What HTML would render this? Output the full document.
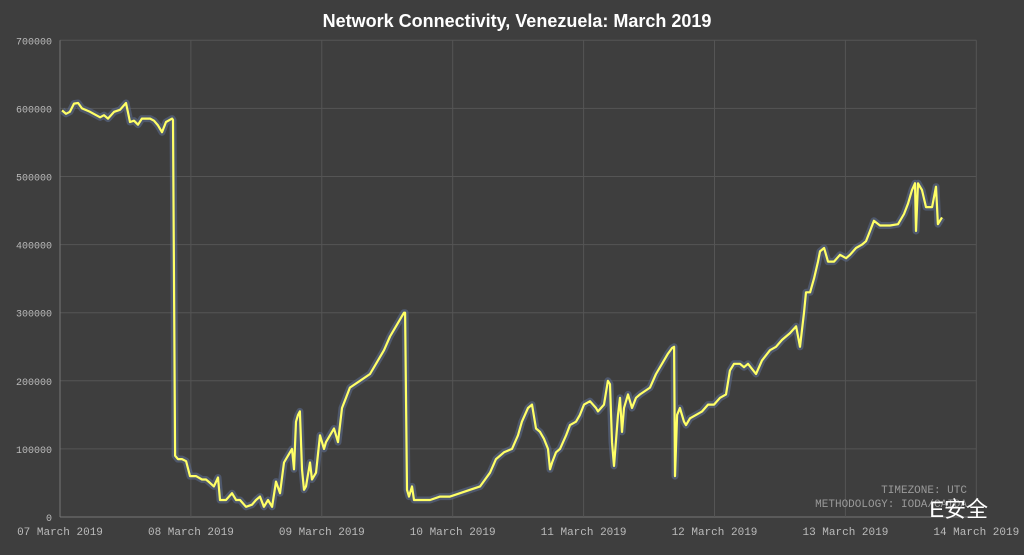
<!DOCTYPE html>
<html><head><meta charset="utf-8"><style>
html,body{margin:0;padding:0;background:#3e3e3e;}
svg{display:block;}
</style></head><body>
<svg id="chart" width="1024" height="555" xmlns="http://www.w3.org/2000/svg">
<rect width="1024" height="555" fill="#3e3e3e"/>
<text x="517" y="27" text-anchor="middle" fill="#ffffff" font-family="Liberation Sans, sans-serif" font-weight="bold" font-size="18">Network Connectivity, Venezuela: March 2019</text>
<g id="grid"></g>
<g id="series"></g>
<text x="967" y="493" text-anchor="end" fill="#9a9a9a" font-family="Liberation Mono, monospace" font-size="11">TIMEZONE: UTC</text>
<text x="967" y="507" text-anchor="end" fill="#9a9a9a" font-family="Liberation Mono, monospace" font-size="11">METHODOLOGY: IODA/CAIDA</text>
<text x="988" y="517" text-anchor="end" fill="#ffffff" font-family="Liberation Sans, Noto Sans CJK SC, sans-serif" font-size="22">E安全</text>
</svg>
<script>
const yTicks=[0,100000,200000,300000,400000,500000,600000,700000];
const dayLabels=["07 March 2019","08 March 2019","09 March 2019","10 March 2019","11 March 2019","12 March 2019","13 March 2019","14 March 2019"];
const pxX=[62,66,70,74,78,82,90,100,104,108,114,120,126,130,134,138,142,150,154,158,162,166,172,173,175,178,182,186,190,196,202,206,210,214,218,220,226,232,236,240,246,252,256,260,264,268,272,276,280,284,288,292,294,296,298,300,302,304,306,310,312,316,320,324,326,330,334,338,342,346,350,360,370,376,384,390,396,402,404,405,407,409,412,414,420,430,440,450,460,470,480,490,496,504,512,518,522,528,532,536,540,544,548,550,552,556,560,566,570,576,580,584,590,596,598,604,608,610,612,614,618,620,622,624,628,632,636,640,650,656,662,668,672,674,675,677,680,684,686,690,696,702,708,714,720,726,730,734,740,744,748,756,762,770,776,782,790,796,800,804,806,810,814,818,820,824,828,834,840,846,850,856,862,866,870,874,880,890,898,904,908,912,915,916,918,922,926,932,936,938,942];
const days=pxX.map(p=>+((p-60)/130.9).toFixed(3));
const values=[597,592,595,607,608,600,595,587,590,585,595,598,608,580,582,576,585,585,582,575,565,580,585,583,90,85,85,82,60,60,55,55,50,45,58,25,25,35,25,25,15,18,25,30,15,25,15,52,35,80,90,100,70,140,150,155,70,40,45,80,55,65,120,100,110,120,130,110,160,175,190,200,210,225,245,265,280,295,300,300,40,30,45,25,25,25,30,30,35,40,45,65,85,95,100,120,140,160,165,130,125,115,100,70,80,95,100,120,135,140,150,165,170,160,155,165,200,195,110,75,150,175,125,160,180,160,175,180,190,210,225,240,248,250,60,150,160,140,135,145,150,155,165,165,175,180,215,225,225,220,225,210,230,245,250,260,270,280,250,300,330,330,350,375,390,395,375,375,385,380,385,395,400,405,420,435,428,428,430,445,460,480,490,420,490,480,455,455,485,430,440].map(v=>v*1000);
const X0=60,DAY=130.9,Y0=517,YPX=476.7/700000;
const xs=d=>X0+d*DAY, ys=v=>Y0-v*YPX;
const NS="http://www.w3.org/2000/svg";
const grid=document.getElementById('grid');
yTicks.forEach((t,i)=>{
 const l=document.createElementNS(NS,'line');
 l.setAttribute('x1',X0);l.setAttribute('x2',xs(7));l.setAttribute('y1',ys(t));l.setAttribute('y2',ys(t));
 l.setAttribute('stroke',i===0?'#777':'#555');l.setAttribute('stroke-width','1');
 
 
 grid.appendChild(l);
 const tx=document.createElementNS(NS,'text');
 tx.setAttribute('x',52);tx.setAttribute('y',ys(t)+4);tx.setAttribute('text-anchor','end');
 tx.setAttribute('fill','#bbb');tx.setAttribute('font-family','Liberation Mono, monospace');tx.setAttribute('font-size','10');
 tx.textContent=t;
 
 
 grid.appendChild(tx);
});
dayLabels.forEach((d,i)=>{
 const l=document.createElementNS(NS,'line');
 l.setAttribute('x1',xs(i));l.setAttribute('x2',xs(i));l.setAttribute('y1',ys(700000));l.setAttribute('y2',Y0);
 l.setAttribute('stroke',i===0?'#777':'#555');l.setAttribute('stroke-width','1');
 
 
 grid.appendChild(l);
 const tx=document.createElementNS(NS,'text');
 tx.setAttribute('x',xs(i));tx.setAttribute('y',535);tx.setAttribute('text-anchor','middle');
 tx.setAttribute('fill','#bbb');tx.setAttribute('font-family','Liberation Mono, monospace');tx.setAttribute('font-size','11');
 tx.textContent=d;
 
 
 grid.appendChild(tx);
});
const pts=days.map((d,i)=>xs(d).toFixed(1)+','+ys(values[i]).toFixed(1)).join(' ');
const s=document.getElementById('series');
const glow=document.createElementNS(NS,'polyline');
glow.setAttribute('points',pts);glow.setAttribute('fill','none');glow.setAttribute('stroke','#5b6a8c');glow.setAttribute('stroke-width','7');glow.setAttribute('stroke-opacity','0.6');glow.setAttribute('stroke-linejoin','round');


s.appendChild(glow);
const line=document.createElementNS(NS,'polyline');
line.setAttribute('points',pts);line.setAttribute('fill','none');line.setAttribute('stroke','#ffff66');line.setAttribute('stroke-width','2.2');line.setAttribute('stroke-linejoin','round');


s.appendChild(line);
</script>
</body></html>
